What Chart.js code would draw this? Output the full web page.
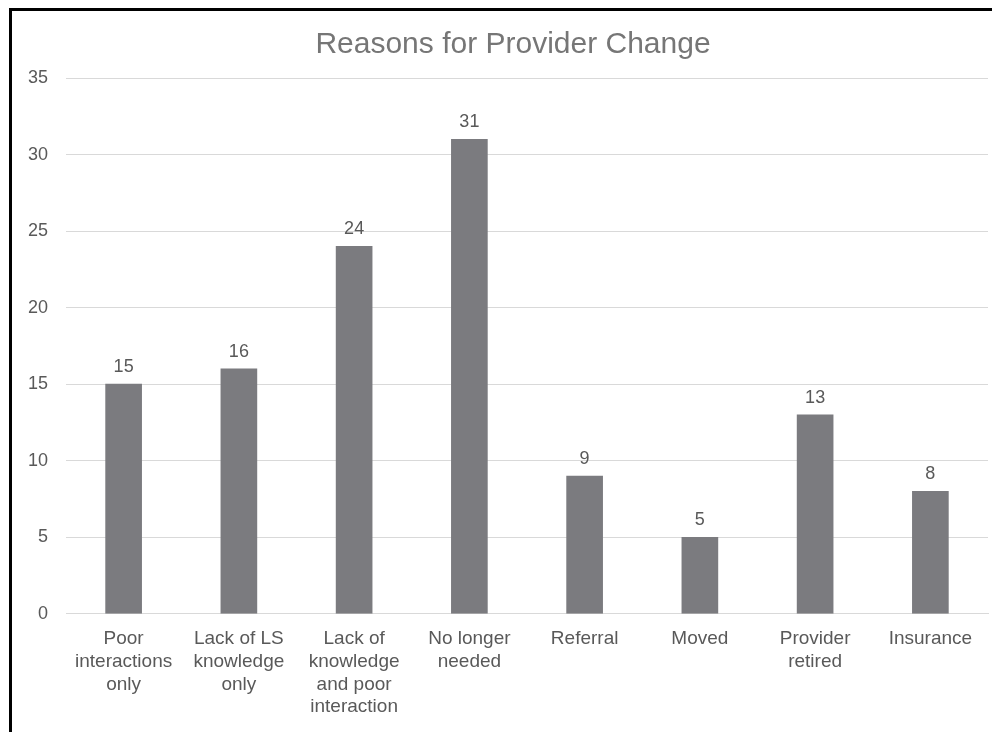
<!DOCTYPE html>
<html>
<head>
<meta charset="utf-8">
<script src="https://cdn.jsdelivr.net/npm/chart.js@4"></script>
<style>
  html, body { margin: 0; padding: 0; background: #fff; width: 992px; height: 732px; overflow: hidden; }
  #frame { position: absolute; left: 9px; top: 8px; width: 983px; height: 724px; border-left: 3px solid #000; border-top: 3px solid #000; box-sizing: border-box; }
  #wrap { position: absolute; left: 12px; top: 11px; width: 980px; height: 721px; }
</style>
</head>
<body>
<div id="frame"></div>
<div id="wrap"><canvas id="c" width="980" height="721"></canvas></div>
<script>
const categories = [
  ["Poor", "interactions", "only"],
  ["Lack of LS", "knowledge", "only"],
  ["Lack of", "knowledge", "and poor", "interaction"],
  ["No longer", "needed"],
  "Referral",
  "Moved",
  ["Provider", "retired"],
  "Insurance"
];
const counts = [15, 16, 24, 31, 9, 5, 13, 8];
const yTicks = [0, 5, 10, 15, 20, 25, 30, 35];
const chartTitle = "Reasons for Provider Change";

const FONT = "'Liberation Sans', Arial, sans-serif";
const TEXT = "#595959";

const valueLabels = {
  id: "valueLabels",
  afterDatasetsDraw(chart) {
    const ctx = chart.ctx;
    const meta = chart.getDatasetMeta(0);
    ctx.save();
    ctx.font = "18px " + FONT;
    ctx.fillStyle = TEXT;
    ctx.textAlign = "center";
    ctx.textBaseline = "alphabetic";
    meta.data.forEach((bar, i) => {
      ctx.fillText(String(counts[i]), bar.x, bar.y - 12);
    });
    ctx.restore();
  }
};

const titleShift = {
  id: "titleShift",
  afterLayout(chart) {
    const t = chart.titleBlock;
    if (t) { t.left += 16; }
  }
};

new Chart(document.getElementById("c"), {
  type: "bar",
  data: {
    labels: categories,
    datasets: [{
      data: counts,
      backgroundColor: "#7b7b7f",
      borderWidth: 0,
      barThickness: 36
    }]
  },
  plugins: [valueLabels, titleShift],
  options: {
    responsive: false,
    animation: false,
    layout: { padding: { left: 10, right: 4, top: 0, bottom: 0 } },
    plugins: {
      legend: { display: false },
      tooltip: { enabled: false },
      title: {
        display: true,
        text: chartTitle,
        color: "#767676",
        font: { family: FONT, size: 30, weight: "normal" },
        padding: { top: 16, bottom: 15 }
      }
    },
    scales: {
      x: {
        grid: { display: false, drawTicks: false },
        border: { display: true, color: "#d9d9d9", width: 1 },
        ticks: {
          color: TEXT,
          font: { family: FONT, size: 19, lineHeight: 1.2 },
          padding: 13.5,
          maxRotation: 0,
          autoSkip: false
        }
      },
      y: {
        min: 0,
        max: 35,
        afterBuildTicks(scale) { scale.ticks = yTicks.map(v => ({ value: v })); },
        afterFit(scale) { scale.width = 44; },
        grid: { color: "#d9d9d9", lineWidth: 1, drawTicks: false },
        border: { display: false },
        ticks: {
          color: TEXT,
          font: { family: FONT, size: 18 },
          padding: 18
        }
      }
    }
  }
});
</script>
</body>
</html>
